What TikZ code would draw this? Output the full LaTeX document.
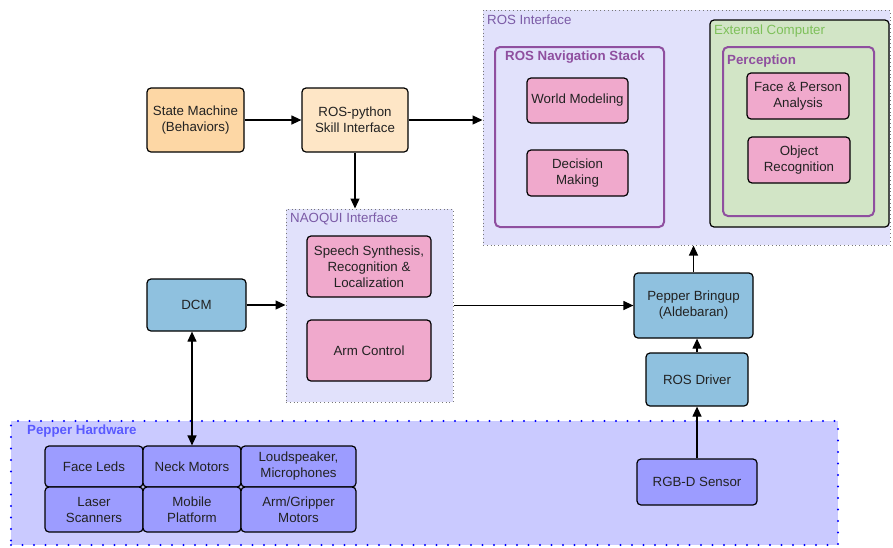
\documentclass[tikz,border=0pt]{standalone}
\usepackage{fontspec}
\setmainfont{Liberation Sans}
\usetikzlibrary{arrows.meta}
\definecolor{rosbg}{HTML}{E1E1FB}
\definecolor{purp}{HTML}{8F4F9F}
\definecolor{roslbl}{HTML}{7B5BA6}
\definecolor{pinkf}{HTML}{F0A9CC}
\definecolor{greenf}{HTML}{D2E5C6}
\definecolor{greent}{HTML}{7EC05A}
\definecolor{orangef}{HTML}{FDD7A5}
\definecolor{lorangef}{HTML}{FEE6C6}
\definecolor{bluef}{HTML}{8FC1DF}
\definecolor{hwbg}{HTML}{CACAFF}
\definecolor{hwbox}{HTML}{9C9CFF}
\definecolor{hwlbl}{HTML}{5A5AFF}
\definecolor{dotgray}{HTML}{777777}
\definecolor{txt}{HTML}{222222}
\begin{document}
\begin{tikzpicture}[x=1pt,y=-1pt,
  font=\fontsize{13.3}{16}\selectfont,
  box/.style={draw=black, line width=1.2pt, rounded corners=4pt, align=center, inner sep=0pt, text=txt},
  pinkbox/.style={box, fill=pinkf},
  bluebox/.style={box, fill=bluef},
  hwcell/.style={box, fill=hwbox},
  dotcont/.style={draw=dotgray, line width=1pt, dash pattern=on 0.8pt off 3pt, fill=rosbg, inner sep=0pt},
  purpcont/.style={draw=purp, line width=2pt, rounded corners=5pt, inner sep=0pt},
  arr/.style={line width=1.2pt, -{Triangle[length=10pt,width=9pt]}},
  darr/.style={line width=1.2pt, {Triangle[length=10pt,width=9pt]}-{Triangle[length=10pt,width=9pt]}},
  lbl/.style={anchor=west, inner sep=0pt}
]
\useasboundingbox (0,0) rectangle (893,547);

% ROS Interface
\node[dotcont, minimum width=407pt, minimum height=235pt] (rosif) at (686.5,127.5) {};
\node[lbl, text=roslbl] (rosiflbl) at (487,20) {ROS Interface};
\node[purpcont, minimum width=169pt, minimum height=180pt] (nav) at (579.5,137) {};
\node[lbl, text=purp, font=\fontsize{13.3}{16}\selectfont\bfseries] (navlbl) at (505,57) {ROS Navigation Stack};
\node[pinkbox, minimum width=101pt, minimum height=45pt] (world) at (577.5,100.5) {World Modeling};
\node[pinkbox, minimum width=101pt, minimum height=46pt] (decision) at (577.5,173) {Decision\\Making};

\node[box, fill=greenf, minimum width=179pt, minimum height=207pt] (ext) at (799.5,123.5) {};
\node[lbl, text=greent] (extlbl) at (714,31) {External Computer};
\node[purpcont, minimum width=151pt, minimum height=169pt] (perc) at (798.5,131.5) {};
\node[lbl, text=purp, font=\fontsize{13.3}{16}\selectfont\bfseries] (perclbl) at (727,61) {Perception};
\node[pinkbox, minimum width=102pt, minimum height=46pt] (face) at (798,96) {Face \& Person\\Analysis};
\node[pinkbox, minimum width=102pt, minimum height=46pt] (obj) at (799,160) {Object\\Recognition};

% Top-left
\node[box, fill=orangef, minimum width=97pt, minimum height=64pt] (sm) at (195.5,120) {State Machine\\(Behaviors)};
\node[box, fill=lorangef, minimum width=106pt, minimum height=64pt] (rospy) at (355,120) {ROS-python\\Skill Interface};

% NAOQUI
\node[dotcont, minimum width=167pt, minimum height=193pt] (naoqi) at (369.5,305.5) {};
\node[lbl, text=roslbl] (naoqilbl) at (290,219) {NAOQUI Interface};
\node[pinkbox, minimum width=124pt, minimum height=61pt] (speech) at (369,266.5) {Speech Synthesis,\\Recognition \&\\Localization};
\node[pinkbox, minimum width=124pt, minimum height=61pt] (arm) at (369,350.5) {Arm Control};

% DCM
\node[bluebox, minimum width=99pt, minimum height=52pt] (dcm) at (196.5,305) {DCM};

% Right column
\node[bluebox, minimum width=119pt, minimum height=65pt] (bringup) at (693.5,305.5) {Pepper Bringup\\(Aldebaran)};
\node[bluebox, minimum width=102pt, minimum height=53pt] (rosdrv) at (697,379.5) {ROS Driver};

% Pepper Hardware
\node[draw=blue, line width=2.4pt, dash pattern=on 0pt off 11.5pt, line cap=round, fill=hwbg, minimum width=827pt, minimum height=124pt, inner sep=0pt] (hw) at (424.5,483) {};
\node[lbl, text=hwlbl, font=\fontsize{13.3}{16}\selectfont\bfseries] (hwlbl) at (27,431) {Pepper Hardware};
\node[hwcell, minimum width=98pt, minimum height=41pt] (faceleds) at (94,466.5) {Face Leds};
\node[hwcell, minimum width=98pt, minimum height=41pt] (neck) at (192,466.5) {Neck Motors};
\node[hwcell, minimum width=115pt, minimum height=41pt] (loud) at (298.5,466.5) {Loudspeaker,\\Microphones};
\node[hwcell, minimum width=98pt, minimum height=45pt] (laser) at (94,509.5) {Laser\\Scanners};
\node[hwcell, minimum width=98pt, minimum height=45pt] (mobile) at (192,509.5) {Mobile\\Platform};
\node[hwcell, minimum width=115pt, minimum height=45pt] (gripper) at (298.5,509.5) {Arm/Gripper\\Motors};
\node[hwcell, minimum width=120pt, minimum height=46pt] (rgbd) at (697,482) {RGB-D Sensor};

% Connectors
\draw[arr] (sm.east) -- (rospy.west);
\draw[arr] (rospy.east) -- (rospy.east -| rosif.west);
\draw[arr] (rospy.south) -- (rospy.south |- naoqi.north);
\draw[arr] (dcm.east) -- (dcm.east -| naoqi.west);
\draw[arr] (naoqi.east |- bringup.west) -- (bringup.west);
\draw[arr] (bringup.north) -- (bringup.north |- rosif.south);
\draw[arr] (rosdrv.north) -- (rosdrv.north |- bringup.south);
\draw[arr] (rgbd.north) -- (rosdrv.south);
\draw[darr] (neck.north |- dcm.south) -- (neck.north);
\end{tikzpicture}
\end{document}
